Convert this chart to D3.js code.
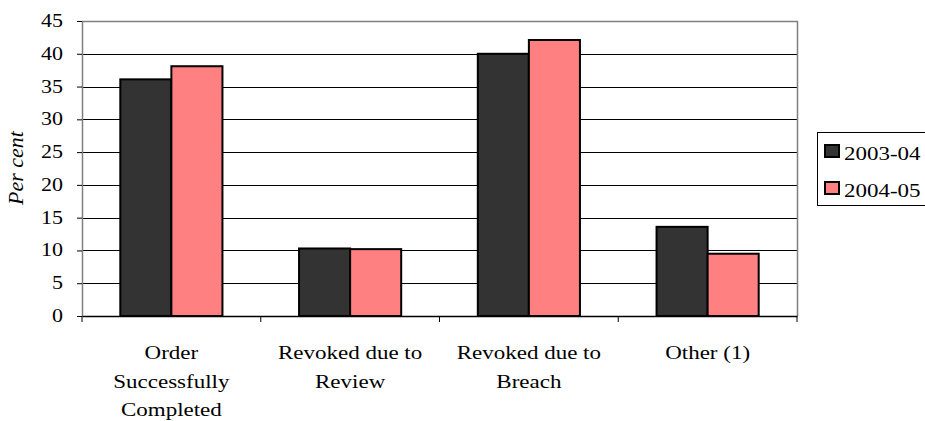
<!DOCTYPE html>
<html>
<head>
<meta charset="utf-8">
<script src="https://cdn.jsdelivr.net/npm/d3@7"></script>
<style>
  html, body { margin: 0; padding: 0; background: #fff; }
  svg { display: block; }
</style>
</head>
<body>
<svg id="chart" width="925" height="421"></svg>
<script>
const categories = [
  ["Order", "Successfully", "Completed"],
  ["Revoked due to", "Review"],
  ["Revoked due to", "Breach"],
  ["Other (1)"]
];
const series = ["2003-04", "2004-05"];
const values2003 = [36.1, 10.3, 40.0, 13.6];
const values2004 = [38.1, 10.2, 42.1, 9.5];
const yTicks = [0, 5, 10, 15, 20, 25, 30, 35, 40, 45];
const colors = ["#333333", "#FF8080"];

const FONT = "'Liberation Serif'";
const svg = d3.select("#chart");
const L = 82, R = 797, T = 21, B = 316;
const SY = 0.82; // vertical squash of text in reference

const catIds = categories.map((d, i) => i);
const x = d3.scaleBand().domain(catIds).range([L, R]).paddingInner(0).paddingOuter(0);
const xs = d3.scaleBand().domain(series).range([0, x.bandwidth()]).paddingInner(0).paddingOuter(0.75);
const y = d3.scaleLinear().domain([0, 45]).range([B, T]);

function txt(sel, fs) {
  return sel.style("font-family", FONT).style("font-size", fs + "px").attr("fill", "#000");
}

// gridlines
svg.append("g").selectAll("line").data(yTicks.filter(t => t > 0 && t < 45)).join("line")
  .attr("x1", L).attr("x2", R)
  .attr("y1", d => Math.round(y(d)) + 0.5).attr("y2", d => Math.round(y(d)) + 0.5)
  .attr("stroke", "#000").attr("stroke-width", 1);

// plot border (top & right)
svg.append("path")
  .attr("d", `M${L},${T + 0.5}H${R + 0.5}V${B}`)
  .attr("fill", "none").attr("stroke", "#808080").attr("stroke-width", 1.5);

// bars
const data = catIds.map(i => [values2003[i], values2004[i]]);
const groups = svg.append("g").selectAll("g").data(data).join("g")
  .attr("transform", (d, i) => `translate(${x(i)},0)`);
groups.selectAll("rect").data(d => d.map((v, j) => ({ v, s: series[j], j }))).join("rect")
  .attr("x", d => xs(d.s))
  .attr("width", xs.bandwidth())
  .attr("y", d => y(d.v))
  .attr("height", d => B - y(d.v))
  .attr("fill", d => colors[d.j])
  .attr("stroke", "#000").attr("stroke-width", 2);

// y axis
const yAxis = d3.axisLeft(y).tickValues(yTicks).tickSize(5).tickSizeOuter(0).tickFormat("");
const yg = svg.append("g").attr("transform", `translate(${L},0)`).call(yAxis);
yg.select(".domain").attr("stroke", "#808080").attr("stroke-width", 1.5);
yg.selectAll(".tick line").attr("stroke", "#000").attr("x2", 0).attr("x1", -5);
// y tick labels
svg.append("g").selectAll("text").data(yTicks).join("text")
  .attr("transform", d => `translate(63,${y(d) + 6}) scale(1,${SY})`)
  .attr("text-anchor", "end")
  .call(txt, 22)
  .text(d => d);

// x axis
const xAxis = d3.axisBottom(x).tickSize(0).tickFormat("");
const xg = svg.append("g").attr("transform", `translate(0,${B})`).call(xAxis);
xg.select(".domain").attr("stroke", "#000").attr("stroke-width", 1.5);
xg.selectAll(".tick").remove();
const bounds = catIds.map(i => x(i)).concat([R]);
svg.append("g").selectAll("line").data(bounds).join("line")
  .attr("x1", d => d).attr("x2", d => d)
  .attr("y1", B).attr("y2", B + 6)
  .attr("stroke", "#000").attr("stroke-width", 1);

// category labels
const labs = svg.append("g").selectAll("g").data(categories).join("g")
  .attr("transform", (d, i) => `translate(${x(i) + x.bandwidth() / 2},0)`);
labs.selectAll("text").data(d => d).join("text")
  .attr("transform", (d, k) => `translate(0,${359 + k * 28.5}) scale(1,${SY})`)
  .attr("text-anchor", "middle")
  .call(txt, 23)
  .text(d => d);

// y axis title
svg.append("text")
  .attr("transform", `translate(23,168) rotate(-90)`)
  .attr("text-anchor", "middle")
  .call(txt, 22)
  .style("font-style", "italic")
  .text("Per cent");

// legend
const lg = svg.append("g");
lg.append("rect").attr("x", 817.5).attr("y", 132.5).attr("width", 130).attr("height", 73)
  .attr("fill", "#fff").attr("stroke", "#000").attr("stroke-width", 1);
const items = lg.selectAll("g").data(series).join("g")
  .attr("transform", (d, i) => `translate(0,${i * 37})`);
items.append("rect").attr("x", 825).attr("y", 145).attr("width", 14).attr("height", 12)
  .attr("fill", (d, i) => colors[i]).attr("stroke", "#000").attr("stroke-width", 2);
items.append("text")
  .attr("transform", `translate(844,160) scale(1,${SY})`)
  .call(txt, 23)
  .text(d => d);
</script>
</body>
</html>
